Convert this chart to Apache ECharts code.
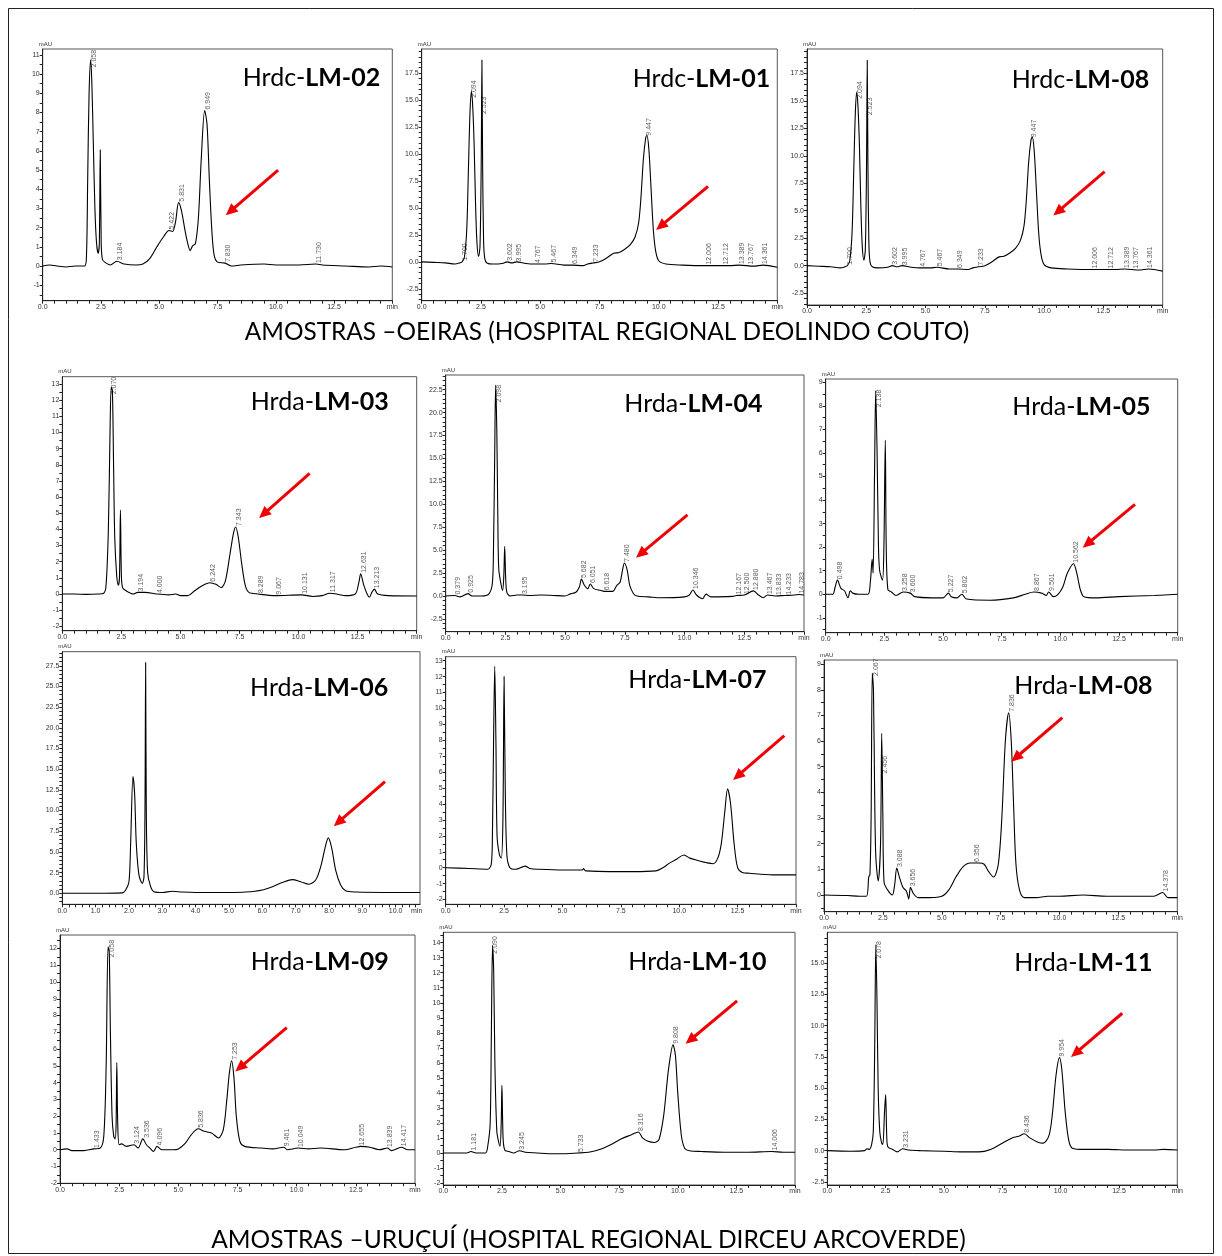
<!DOCTYPE html>
<html>
<head>
<meta charset="utf-8">
<script src="https://cdn.jsdelivr.net/npm/echarts@6/dist/echarts.min.js"></script>
<style>
html,body{margin:0;padding:0;background:#fff}
#container{width:1222px;height:1256px}
</style>
</head>
<body>
<div id="container"></div>
<script>
// chromatograms, [min, mAU]
var lm02 = [[0,0],[0.3,0.05],[0.6,0.0],[1.0,-0.05],[1.4,0.0],[1.8,0.0],[1.88,0.6],[1.93,4.5],[1.99,9.0],[2.06,10.75],[2.11,9.5],[2.17,6.5],[2.24,3.0],[2.31,1.2],[2.38,0.65],[2.43,1.2],[2.47,6.05],[2.51,1.2],[2.56,0.35],[2.66,0.2],[2.9,0.05],[3.18,0.25],[3.5,0.1],[4.0,0.05],[4.3,0.1],[4.6,0.4],[4.9,1.0],[5.2,1.55],[5.42,1.85],[5.57,1.8],[5.7,2.3],[5.83,3.3],[5.95,2.9],[6.1,1.9],[6.2,1.3],[6.33,0.8],[6.43,1.05],[6.55,1.15],[6.68,2.5],[6.8,5.5],[6.95,8.1],[7.05,7.4],[7.15,4.5],[7.25,2.0],[7.35,0.6],[7.5,0.2],[7.83,0.15],[8.1,0.0],[8.5,0.05],[9.5,0.1],[10.0,0.05],[11.0,0.05],[11.73,0.1],[12.0,0.05],[13.0,0.0],[14.0,-0.05],[14.5,0.0],[15,-0.05]];
var lm01 = [[0,0],[0.5,-0.05],[1.0,-0.1],[1.4,-0.2],[1.6,-0.1],[1.7,0.0],[1.8,0.4],[1.9,3.0],[1.97,8.5],[2.04,14.0],[2.1,15.8],[2.15,14.5],[2.21,11.0],[2.27,5.5],[2.33,1.8],[2.4,0.5],[2.46,1.5],[2.51,9.0],[2.54,18.7],[2.57,9.0],[2.61,2.0],[2.66,0.3],[2.75,-0.1],[3.0,-0.2],[3.4,-0.15],[3.6,0.0],[3.8,-0.1],[4.0,0.0],[4.4,-0.15],[4.77,-0.2],[5.2,-0.2],[5.47,-0.15],[6.0,-0.3],[6.35,-0.3],[6.8,-0.35],[7.0,-0.2],[7.23,-0.1],[7.5,0.0],[7.8,0.35],[8.1,0.8],[8.3,0.85],[8.55,1.15],[8.8,1.6],[9.0,2.3],[9.15,3.6],[9.25,6.0],[9.35,9.5],[9.45,11.5],[9.5,11.7],[9.58,10.5],[9.67,7.0],[9.77,3.0],[9.87,1.0],[10.0,0.1],[10.3,-0.2],[11.0,-0.3],[12.0,-0.35],[13.0,-0.35],[13.4,-0.3],[14.0,-0.4],[14.4,-0.3],[15,-0.5]];
// Hrdc-LM-08 is the same trace as Hrdc-LM-01 in the picture
var lm08c = lm01;
var lm03 = [[0,0],[0.5,0.0],[1.0,-0.02],[1.5,0.0],[1.75,0.05],[1.85,0.5],[1.95,4.0],[2.02,10.0],[2.07,12.8],[2.12,12.6],[2.17,8.0],[2.22,3.5],[2.3,1.2],[2.37,0.55],[2.42,1.0],[2.46,5.2],[2.5,1.2],[2.55,0.4],[2.7,0.2],[3.0,0.0],[3.19,0.1],[3.5,0.1],[4.0,0.0],[4.5,-0.05],[4.8,0.0],[5.0,-0.1],[5.3,-0.1],[5.6,0.2],[5.9,0.5],[6.24,0.7],[6.5,0.6],[6.72,0.4],[6.9,0.8],[7.1,2.5],[7.25,3.8],[7.34,4.15],[7.45,3.5],[7.6,1.8],[7.75,0.5],[7.9,0.1],[8.29,0.0],[9.0,-0.1],[10.13,-0.05],[10.6,-0.15],[11.0,-0.1],[11.32,0.05],[11.6,0.0],[12.0,-0.1],[12.4,0.0],[12.55,0.7],[12.63,1.25],[12.75,0.6],[12.9,0.0],[13.0,-0.2],[13.1,0.1],[13.21,0.3],[13.35,0.0],[13.8,-0.1],[15,-0.12]];
var lm04 = [[0,0],[0.38,0.05],[0.6,-0.1],[0.93,0.25],[1.1,0.0],[1.5,0.0],[1.8,0.2],[1.95,1.3],[2.0,5.0],[2.05,15.0],[2.09,23.0],[2.14,18.0],[2.18,9.0],[2.22,3.0],[2.3,1.5],[2.38,0.6],[2.43,2.0],[2.47,5.4],[2.51,2.0],[2.56,0.4],[2.7,0.0],[3.0,0.1],[3.2,0.1],[3.5,0.05],[4.0,0.1],[4.5,0.05],[5.0,0.0],[5.2,0.2],[5.45,0.4],[5.6,1.0],[5.68,1.85],[5.8,1.2],[5.95,0.8],[6.05,1.3],[6.2,0.8],[6.5,0.6],[6.62,0.5],[6.8,0.5],[7.0,0.5],[7.15,1.1],[7.3,1.5],[7.4,2.8],[7.48,3.6],[7.6,2.8],[7.7,1.2],[7.85,0.3],[8.0,0.0],[8.5,-0.1],[9.0,-0.2],[10.0,-0.1],[10.2,0.1],[10.35,0.65],[10.5,0.1],[10.75,-0.3],[10.9,0.2],[11.1,-0.1],[12.0,-0.05],[12.17,0.05],[12.5,0.1],[12.88,0.55],[13.1,0.1],[13.3,-0.2],[13.47,0.1],[13.8,0.0],[14.2,0.05],[14.6,0.1],[14.78,0.15],[15,0.1]];
var lm05 = [[0,0],[0.3,0.0],[0.4,0.3],[0.5,0.6],[0.65,0.25],[0.8,0.15],[0.95,-0.15],[1.05,0.15],[1.15,0.05],[1.4,0.0],[1.8,0.0],[1.9,0.5],[1.98,1.5],[2.02,0.9],[2.08,5.0],[2.13,8.65],[2.19,6.0],[2.25,2.0],[2.3,1.0],[2.42,0.6],[2.48,2.0],[2.54,6.55],[2.58,2.0],[2.65,0.2],[2.8,0.1],[3.0,-0.05],[3.3,0.1],[3.6,0.05],[3.8,-0.1],[4.5,-0.15],[5.0,-0.15],[5.23,0.05],[5.35,-0.1],[5.6,-0.15],[5.8,0.0],[6.0,-0.2],[7.0,-0.25],[8.0,-0.15],[8.5,0.0],[8.87,0.1],[9.2,0.05],[9.4,-0.05],[9.5,0.1],[9.7,-0.1],[9.9,0.0],[10.1,0.3],[10.3,0.9],[10.56,1.3],[10.7,0.9],[10.85,0.2],[11.0,-0.1],[11.5,-0.15],[12.5,-0.1],[14.0,-0.05],[15,0.0]];
var lm06 = [[0,0],[1.0,0.0],[1.8,0.05],[1.9,0.4],[2.0,1.4],[2.05,6.0],[2.12,14.1],[2.17,12.0],[2.22,6.0],[2.3,2.2],[2.4,1.2],[2.45,2.0],[2.48,10.0],[2.5,27.9],[2.52,10.0],[2.56,2.5],[2.65,0.8],[2.75,0.2],[3.0,0.1],[3.3,0.25],[3.6,0.15],[4.0,0.1],[5.0,0.1],[5.5,0.15],[6.0,0.4],[6.3,0.8],[6.6,1.3],[6.9,1.65],[7.15,1.4],[7.4,1.1],[7.6,1.6],[7.75,3.2],[7.9,5.8],[7.98,6.7],[8.08,5.5],[8.2,2.8],[8.35,1.0],[8.5,0.3],[8.8,0.15],[10.0,0.1],[10.73,0.1]];
var lm07 = [[0,0],[1.0,-0.05],[1.8,-0.1],[1.95,0.2],[2.0,2.0],[2.05,8.0],[2.1,12.65],[2.15,8.0],[2.2,2.0],[2.3,0.8],[2.38,0.6],[2.45,3.0],[2.5,12.0],[2.55,5.0],[2.62,0.8],[2.75,0.0],[3.0,-0.1],[3.3,0.05],[3.4,0.1],[3.6,-0.05],[4.0,-0.1],[5.0,-0.15],[5.85,-0.15],[5.9,-0.05],[5.95,-0.15],[6.0,-0.2],[7.0,-0.25],[8.0,-0.25],[9.0,-0.2],[9.3,0.0],[9.6,0.3],[9.9,0.55],[10.2,0.8],[10.45,0.6],[10.8,0.45],[11.2,0.3],[11.45,0.25],[11.65,0.6],[11.8,1.5],[11.95,3.5],[12.07,4.95],[12.2,4.0],[12.35,1.5],[12.5,0.0],[12.7,-0.3],[13.0,-0.35],[14.0,-0.45],[15,-0.45]];
var lm08 = [[0,0],[1.0,-0.02],[1.5,-0.05],[1.8,-0.05],[1.9,0.7],[1.95,0.8],[2.0,3.0],[2.05,8.65],[2.1,8.0],[2.15,4.0],[2.2,1.5],[2.3,0.55],[2.4,2.0],[2.45,6.3],[2.5,3.0],[2.55,0.5],[2.7,0.2],[2.9,0.0],[3.0,0.4],[3.09,1.05],[3.2,0.7],[3.35,0.3],[3.5,0.15],[3.6,-0.15],[3.67,0.3],[3.8,0.05],[4.0,-0.1],[4.5,-0.1],[5.0,-0.05],[5.3,0.2],[5.6,0.7],[5.9,1.1],[6.2,1.25],[6.36,1.25],[6.6,1.25],[6.8,1.2],[7.0,0.9],[7.2,0.7],[7.4,1.2],[7.55,3.0],[7.7,6.0],[7.84,7.1],[7.95,6.0],[8.05,3.5],[8.15,1.2],[8.3,0.2],[8.5,-0.1],[9.0,-0.1],[9.5,-0.05],[10.0,-0.05],[11.0,0.0],[12.0,-0.05],[13.0,-0.05],[14.0,-0.05],[14.38,0.1],[14.6,-0.1],[15,-0.1]];
var lm09 = [[0,0],[0.3,0.05],[0.5,-0.05],[1.0,-0.05],[1.43,0.05],[1.7,0.1],[1.85,0.8],[1.95,5.0],[2.03,12.1],[2.08,11.8],[2.13,7.0],[2.2,2.0],[2.27,0.8],[2.33,0.65],[2.37,1.5],[2.4,5.2],[2.44,1.5],[2.5,0.3],[2.6,0.35],[2.8,0.2],[3.12,0.3],[3.3,0.1],[3.5,0.65],[3.65,0.3],[3.8,0.1],[3.95,-0.1],[4.1,0.2],[4.3,0.0],[4.8,0.0],[5.0,0.05],[5.3,0.4],[5.55,0.9],[5.84,1.25],[6.1,1.1],[6.4,1.0],[6.7,0.7],[6.9,1.2],[7.05,3.0],[7.15,4.5],[7.25,5.3],[7.35,4.3],[7.45,2.0],[7.6,0.5],[7.8,0.2],[8.5,0.1],[9.0,0.05],[9.46,0.15],[9.6,0.0],[10.05,0.1],[10.5,0.05],[11.0,0.1],[12.0,0.0],[12.5,0.15],[12.7,0.2],[13.1,0.15],[13.5,0.0],[13.84,0.1],[14.0,-0.05],[14.42,0.15],[14.7,0.0],[15,0.0]];
var lm10 = [[0,0],[1.0,0.0],[1.18,0.1],[1.4,0.0],[1.8,0.0],[1.9,0.5],[2.0,2.0],[2.05,8.0],[2.1,13.8],[2.15,12.0],[2.2,6.0],[2.28,1.5],[2.35,0.8],[2.42,0.45],[2.47,2.0],[2.5,4.5],[2.55,1.0],[2.62,0.2],[2.8,0.1],[3.0,0.0],[3.25,0.15],[3.5,0.05],[4.0,0.0],[4.5,-0.05],[5.0,-0.05],[5.73,0.0],[6.2,0.05],[6.7,0.25],[7.2,0.6],[7.6,0.95],[8.0,1.2],[8.32,1.4],[8.5,1.0],[8.7,0.8],[9.0,0.7],[9.2,0.9],[9.4,2.5],[9.6,5.5],[9.8,7.2],[9.9,6.5],[10.0,4.0],[10.15,1.2],[10.3,0.3],[10.5,0.15],[11.0,0.1],[12.0,0.05],[13.0,0.05],[14.0,0.1],[14.5,0.05],[15,0.05]];
var lm11 = [[0,0],[1.0,-0.05],[1.6,0.0],[1.7,0.15],[1.8,0.1],[1.9,0.5],[1.97,1.5],[2.03,8.0],[2.08,16.5],[2.13,12.0],[2.18,5.0],[2.25,1.5],[2.33,0.6],[2.38,0.5],[2.45,3.0],[2.5,4.5],[2.55,1.0],[2.6,0.3],[2.8,0.1],[3.0,-0.1],[3.23,0.15],[3.5,0.05],[4.0,0.0],[5.0,-0.05],[5.75,-0.1],[6.5,-0.1],[7.0,0.1],[7.5,0.6],[7.9,1.0],[8.2,1.15],[8.44,1.35],[8.7,1.0],[9.0,0.7],[9.25,0.6],[9.5,1.2],[9.65,3.0],[9.8,6.0],[9.95,7.45],[10.05,6.5],[10.2,3.0],[10.35,0.8],[10.5,0.2],[11.0,0.1],[12.0,0.1],[13.0,0.05],[14.0,0.05],[14.4,0.1],[15,0.05]];

// peak labels: [retention time, height where the label starts]
var lm02Peaks = [[2.058,10.3],[3.184,0.25],[5.422,1.85],[5.831,3.3],[6.949,8.1],[7.830,0.15],[11.730,0.1]];
var lm01Peaks = [[1.700,0.0],[2.094,15.1],[2.523,13.6],[3.602,0.0],[3.995,-0.05],[4.767,-0.2],[5.467,-0.15],[6.349,-0.3],[7.233,-0.1],[9.447,11.6],[12.006,-0.35],[12.712,-0.35],[13.389,-0.3],[13.767,-0.35],[14.361,-0.3]];
var lm08cPeaks = lm01Peaks;
var lm03Peaks = [[2.070,12.3],[3.194,0.1],[4.000,0.0],[6.242,0.7],[7.343,4.15],[8.289,0.0],[9.067,-0.1],[10.131,-0.05],[11.317,0.05],[12.631,1.25],[13.213,0.3]];
var lm04Peaks = [[0.379,0.05],[0.925,0.25],[2.098,21.0],[3.195,0.1],[5.682,1.85],[6.051,1.3],[6.618,0.5],[7.480,3.6],[10.346,0.65],[12.167,0.05],[12.500,0.1],[12.880,0.55],[13.467,0.1],[13.833,0.0],[14.233,0.05],[14.783,0.15]];
var lm05Peaks = [[0.498,0.6],[2.138,7.9],[3.258,0.1],[3.600,0.05],[5.227,0.05],[5.802,0.0],[8.867,0.1],[9.501,0.1],[10.562,1.3]];
var lm06Peaks = [];
var lm07Peaks = [];
var lm08Peaks = [[2.067,8.5],[2.456,4.7],[3.088,1.05],[3.656,0.3],[6.356,1.25],[7.836,7.1],[14.378,0.1]];
var lm09Peaks = [[1.433,0.05],[2.058,11.4],[3.124,0.3],[3.536,0.65],[4.096,0.2],[5.836,1.25],[7.253,5.3],[9.461,0.15],[10.049,0.1],[12.655,0.2],[13.839,0.1],[14.417,0.15]];
var lm10Peaks = [[1.181,0.1],[2.090,13.2],[3.245,0.15],[5.733,0.0],[8.316,1.4],[9.808,7.2],[14.006,0.1]];
var lm11Peaks = [[2.078,15.3],[3.231,0.15],[8.436,1.35],[9.954,7.45]];

// red arrows, [from, to] in data units
var lm02Arrow = [[10.1,5.0],[8.05,2.85]];
var lm01Arrow = [[12.08,6.99],[10.08,3.30]];
var lm08cArrow = [[12.55,8.55],[10.58,4.91]];
var lm03Arrow = [[10.47,7.47],[8.52,4.95]];
var lm04Arrow = [[10.12,8.85],[8.16,4.59]];
var lm05Arrow = [[13.18,3.82],[11.15,2.14]];
var lm06Arrow = [[9.68,13.5],[8.28,8.59]];
var lm07Arrow = [[14.5,8.29],[12.5,5.76]];
var lm08Arrow = [[10.12,6.91],[8.14,5.35]];
var lm09Arrow = [[9.58,7.28],[7.6,4.9]];
var lm10Arrow = [[12.53,10.12],[10.53,7.52]];
var lm11Arrow = [[12.64,11.0],[10.64,7.8]];

var sampleNames = ['Hrdc|LM-02','Hrdc|LM-01','Hrdc|LM-08','Hrda|LM-03','Hrda|LM-04','Hrda|LM-05','Hrda|LM-06','Hrda|LM-07','Hrda|LM-08','Hrda|LM-09','Hrda|LM-10','Hrda|LM-11'];
var traces = [lm02, lm01, lm08c, lm03, lm04, lm05, lm06, lm07, lm08, lm09, lm10, lm11];
var peakLists = [lm02Peaks, lm01Peaks, lm08cPeaks, lm03Peaks, lm04Peaks, lm05Peaks, lm06Peaks, lm07Peaks, lm08Peaks, lm09Peaks, lm10Peaks, lm11Peaks];
var arrows = [lm02Arrow, lm01Arrow, lm08cArrow, lm03Arrow, lm04Arrow, lm05Arrow, lm06Arrow, lm07Arrow, lm08Arrow, lm09Arrow, lm10Arrow, lm11Arrow];
var captions = ['AMOSTRAS \u2013OEIRAS (HOSPITAL REGIONAL DEOLINDO COUTO)', 'AMOSTRAS \u2013URU\u00c7U\u00cd (HOSPITAL REGIONAL DIRCEU ARCOVERDE)'];

// layout: grid [left, top, width, height], axis [min, max, label step], title anchor
var layout = [
	{grid:[42.7,49,349.6,251.7], y:[-1.81,11.31,1], x:[0,15,2.5], title:[242.7,78]},
	{grid:[421.7,49,355.6,251.7], y:[-3.6,19.72,2.5], x:[0,15,2.5], title:[632.7,79]},
	{grid:[807,49,355.7,256], y:[-3.58,19.72,2.5], x:[0,15,2.5], title:[1011.7,79.5]},
	{grid:[62.3,376.7,354.4,254], y:[-2.27,13.45,1], x:[0,15,2.5], title:[250.7,401.5]},
	{grid:[445.7,375,358.3,256.7], y:[-3.9,24.1,2.5], x:[0,15,2.5], title:[624.3,404]},
	{grid:[825.7,379,352,253.7], y:[-1.63,9.14,1], x:[0,15,2.5], title:[1012.3,406.7]},
	{grid:[62.3,651.7,357.7,252.6], y:[-1.33,29.2,2.5], x:[0,10.73,1], title:[250,687.5]},
	{grid:[445.7,656.7,350.3,247.6], y:[-2.3,13.25,1], x:[0,15,2.5], title:[628.3,680]},
	{grid:[824,660,353.3,251.7], y:[-0.65,9.16,1], x:[0,15,2.5], title:[1014.3,686]},
	{grid:[60,935,355,248.3], y:[-2.0,12.8,1], x:[0,15,2.5], title:[250.7,961.7]},
	{grid:[443.3,932.3,351.7,252.7], y:[-2.13,14.69,1], x:[0,15,2.5], title:[628.3,961.7]},
	{grid:[827.3,932.3,350,252.7], y:[-2.75,17.48,2.5], x:[0,15,2.5], title:[1014.3,962.5]}
];

function steps(a, b, s) {
	var out = [];
	var i0 = Math.ceil(a / s - 1e-9), i1 = Math.floor(b / s + 1e-9);
	for (var i = i0; i <= i1; i++) out.push(Math.round(i * s * 1000) / 1000);
	return out;
}

var chart = echarts.init(document.getElementById('container'));
var grids = [], xAxes = [], yAxes = [], series = [], graphics = [];
var axisFont = 'Liberation Sans';

layout.forEach(function (L, i) {
	grids.push({
		left: L.grid[0], top: L.grid[1], width: L.grid[2], height: L.grid[3],
		show: true, borderColor: '#555', borderWidth: 1, backgroundColor: 'transparent',
		outerBoundsMode: 'none'
	});
	var xMin = L.x[0], xMax = L.x[1], xStep = L.x[2];
	var xLabels = steps(xMin, xMax, xStep);
	if (Math.abs(xLabels[xLabels.length - 1] - xMax) > 1e-6) xLabels.push(Math.round((xMax - 0.1) * 100) / 100);
	xAxes.push({
		type: 'value', gridIndex: i, min: xMin, max: xMax,
		axisLine: { show: true, onZero: false, lineStyle: { color: '#222', width: 1 } },
		axisTick: { show: true, customValues: steps(xMin, xMax, xStep / 5), length: 3, lineStyle: { color: '#222', width: 1 } },
		axisLabel: {
			customValues: xLabels, fontSize: 7, color: '#333', margin: 3, fontFamily: axisFont,
			formatter: function (v) { return v >= xMax - 0.15 ? 'min' : v.toFixed(1); }
		},
		splitLine: { show: false }
	});
	var yMin = L.y[0], yMax = L.y[1], yStep = L.y[2];
	yAxes.push({
		type: 'value', gridIndex: i, min: yMin, max: yMax,
		name: 'mAU', nameLocation: 'end', nameGap: 2,
		nameTextStyle: { fontSize: 6, color: '#333', fontFamily: axisFont, align: 'left', padding: [0, 0, 0, -4] },
		axisLine: { show: true, onZero: false, lineStyle: { color: '#222', width: 1 } },
		axisTick: { show: true, customValues: steps(yMin, yMax, 0.5), length: 3, lineStyle: { color: '#222', width: 1 } },
		axisLabel: {
			customValues: steps(yMin, yMax, yStep), fontSize: 7, color: '#333', margin: 3, fontFamily: axisFont,
			formatter: function (v) { return yStep === 1 ? String(Math.round(v)) : v.toFixed(1); }
		},
		splitLine: { show: false }
	});
	series.push({
		type: 'line', xAxisIndex: i, yAxisIndex: i, data: traces[i],
		symbol: 'none', showSymbol: false, smooth: 0.3, silent: true, animation: false,
		lineStyle: { color: '#000', width: 1.1 },
		markLine: {
			silent: true, animation: false, symbol: ['none', 'triangle'], symbolSize: [11, 12],
			lineStyle: { color: '#f00000', width: 3, type: 'solid' },
			itemStyle: { color: '#f00000' },
			label: { show: false },
			data: [[{ coord: arrows[i][0] }, { coord: arrows[i][1] }]]
		}
	});
	series.push({
		type: 'scatter', xAxisIndex: i, yAxisIndex: i, data: peakLists[i],
		symbol: 'circle', symbolSize: 0.1, silent: true, animation: false,
		itemStyle: { color: 'transparent' },
		label: {
			show: true, position: 'inside', rotate: 90, align: 'left', verticalAlign: 'middle',
			offset: [1, 3], fontSize: 7, color: '#333', fontFamily: axisFont,
			formatter: function (p) { return p.value[0].toFixed(3); }
		}
	});
	var nm = sampleNames[i].split('|');
	graphics.push({
		type: 'text', x: L.title[0], y: L.title[1], silent: true,
		style: {
			text: '{a|' + nm[0] + '-}{b|' + nm[1] + '}',
			align: 'left', verticalAlign: 'middle', textAlign: 'left', textVerticalAlign: 'middle',
			rich: {
				a: { fontFamily: 'Lato', fontSize: 25, fill: '#000', color: '#000' },
				b: { fontFamily: 'Lato', fontSize: 25, fontWeight: 'bold', fill: '#000', color: '#000' }
			}
		}
	});
});

graphics.push({
	type: 'rect', silent: true,
	shape: { x: 8.5, y: 8.5, width: 1205, height: 1245 },
	style: { fill: 'none', stroke: '#222', lineWidth: 1 }
});
graphics.push({
	type: 'text', x: 607, y: 332, silent: true,
	style: { text: captions[0], fontFamily: 'Lato', fontSize: 24.4, fill: '#000', align: 'center', verticalAlign: 'middle', textAlign: 'center', textVerticalAlign: 'middle' }
});
graphics.push({
	type: 'text', x: 588.5, y: 1240, silent: true,
	style: { text: captions[1], fontFamily: 'Lato', fontSize: 24.5, fill: '#000', align: 'center', verticalAlign: 'middle', textAlign: 'center', textVerticalAlign: 'middle' }
});

var option = {
	backgroundColor: '#fff',
	animation: false,
	grid: grids,
	xAxis: xAxes,
	yAxis: yAxes,
	series: series,
	graphic: graphics
};
chart.setOption(option);
</script>
</body>
</html>
